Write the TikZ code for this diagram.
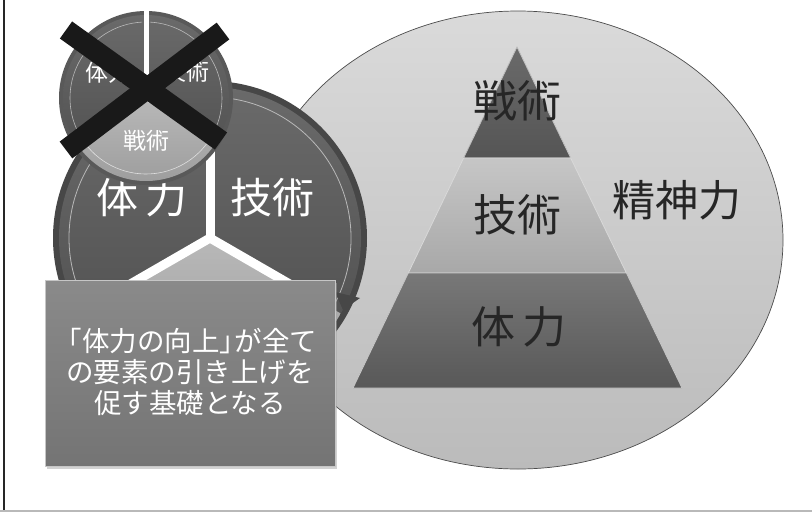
\documentclass[tikz,border=0pt]{standalone}
\usepackage{fontspec}
\newfontfamily\jp{Noto Sans CJK JP}
\usetikzlibrary{shadows}
\definecolor{ellTop}{HTML}{DADADA}
\definecolor{ellBot}{HTML}{BBBBBB}
\definecolor{darkSegA}{HTML}{6A6A6A}
\definecolor{darkSegB}{HTML}{545454}
\definecolor{lightSegA}{HTML}{B8B8B8}
\definecolor{lightSegB}{HTML}{9A9A9A}
\definecolor{boxTop}{HTML}{8A8A8A}
\definecolor{boxBot}{HTML}{747474}
\definecolor{pyrTopA}{HTML}{6A6A6A}
\definecolor{pyrTopB}{HTML}{555555}
\definecolor{pyrMidA}{HTML}{C6C6C6}
\definecolor{pyrMidB}{HTML}{A8A8A8}
\definecolor{pyrBotA}{HTML}{787878}
\definecolor{pyrBotB}{HTML}{585858}
\tikzset{
  darkseg/.style={top color=darkSegA, bottom color=darkSegB},
  lightseg/.style={top color=lightSegA, bottom color=lightSegB},
  rim/.style={draw=gray!55, line width=0.8pt},
  sep/.style={draw=white, line cap=butt},
  whitetxt/.style={text=white, font=\jp},
  blacktxt/.style={text=black!85, font=\jp},
}
\begin{document}
\begin{tikzpicture}[x=1pt,y=1pt]
\useasboundingbox (0,0) rectangle (812,-512);
\fill[white] (0,0) rectangle (812,-512);
% frame
\draw[line width=2.5pt, black!85] (4,0) -- (4,-512);
\draw[line width=2pt, gray!55] (0,-511) -- (812,-511);

% big ellipse (spirit)
\shade[top color=ellTop, bottom color=ellBot] (518,-240) ellipse [x radius=265, y radius=229];
\draw[gray!60!black, line width=0.7pt] (518,-240) ellipse [x radius=265, y radius=229];

% pyramid
\coordinate (apex) at (517,-47);
\coordinate (l1) at (463.6,-158); \coordinate (r1) at (570.7,-158);
\coordinate (l2) at (408.3,-273); \coordinate (r2) at (626.4,-273);
\coordinate (bl) at (353,-388);   \coordinate (br) at (682,-388);
\shade[top color=pyrTopA, bottom color=pyrTopB, draw=gray!50, line width=0.8pt] (apex) -- (r1) -- (l1) -- cycle;
\shade[top color=pyrMidA, bottom color=pyrMidB, draw=gray!30, line width=0.8pt] (l1) -- (r1) -- (r2) -- (l2) -- cycle;
\shade[top color=pyrBotA, bottom color=pyrBotB, draw=gray!45, line width=0.8pt] (l2) -- (r2) -- (br) -- (bl) -- cycle;
\node[blacktxt, font=\jp\fontsize{44}{50}\selectfont] (senjutsuP) at (517,-101) {戦術};
\node[blacktxt, font=\jp\fontsize{44}{50}\selectfont] (gijutsuP) at (517,-215) {技術};
\node[blacktxt, font=\jp\fontsize{44}{50}\selectfont] (tairyokuP) at (519,-327) {体\,力};
\node[blacktxt, font=\jp\fontsize{43}{50}\selectfont] (seishin) at (677,-200) {精神力};

% big wheel
\coordinate (C) at (210,-238);
\fill[black!72] (C) circle (157);
\shade[darkseg] (C) -- ++(90:151) arc[start angle=90, end angle=210, radius=151] -- cycle;
\shade[darkseg] (C) -- ++(-30:151) arc[start angle=-30, end angle=90, radius=151] -- cycle;
\shade[lightseg] (C) -- ++(210:151) arc[start angle=210, end angle=330, radius=151] -- cycle;
\draw[rim] (C) ++(92:141) arc[start angle=92, end angle=208, radius=141];
\draw[rim] (C) ++(-28:141) arc[start angle=-28, end angle=88, radius=141];
\draw[rim, gray!25] (C) ++(212:141) arc[start angle=212, end angle=328, radius=141];
\draw[sep, line width=9pt] (C) -- ++(90:157);
\draw[sep, line width=9pt] (C) -- ++(210:140);
\draw[sep, line width=9pt] (C) -- ++(330:140);
\fill[black!72] (335,-292) -- (360,-298) -- (343,-310) -- cycle;
\node[whitetxt, font=\jp\fontsize{42}{48}\selectfont] (tairyokuW) at (142,-198) {体\,力};
\node[whitetxt, font=\jp\fontsize{42}{48}\selectfont] (gijutsuW) at (272,-198) {技術};

% small (crossed) wheel
\coordinate (S) at (146,-98);
\fill[black!65] (S) circle (87);
\shade[darkseg] (S) -- ++(90:83) arc[start angle=90, end angle=210, radius=83] -- cycle;
\shade[darkseg] (S) -- ++(-30:83) arc[start angle=-30, end angle=90, radius=83] -- cycle;
\shade[lightseg] (S) -- ++(210:83) arc[start angle=210, end angle=330, radius=83] -- cycle;
\draw[rim, line width=0.6pt] (S) ++(93:76) arc[start angle=93, end angle=207, radius=76];
\draw[rim, line width=0.6pt] (S) ++(-27:76) arc[start angle=-27, end angle=87, radius=76];
\draw[rim, line width=0.6pt, gray!25] (S) ++(213:76) arc[start angle=213, end angle=327, radius=76];
\draw[sep, line width=5pt] (S) -- ++(90:88);
\draw[sep, line width=5pt] (S) -- ++(210:84);
\draw[sep, line width=5pt] (S) -- ++(330:84);
\node[whitetxt, font=\jp\fontsize{23}{26}\selectfont] (tairyokuS) at (108,-73) {体力};
\node[whitetxt, font=\jp\fontsize{23}{26}\selectfont] (gijutsuS) at (186,-72) {技術};
\node[whitetxt, font=\jp\fontsize{23}{26}\selectfont] (senjutsuS) at (146,-141) {戦術};

% cross
\coordinate (x1a) at (66,-30);  \coordinate (x1b) at (221,-141);
\coordinate (x2a) at (223,-31); \coordinate (x2b) at (66,-150);
\draw[line width=21pt, black!90] (x1a) -- (x1b);
\draw[line width=21pt, black!90] (x2a) -- (x2b);

% text box
\node[draw=gray!45, line width=0.8pt, top color=boxTop, bottom color=boxBot,
      drop shadow={shadow xshift=1.5pt, shadow yshift=-3pt, fill=black!35},
      minimum width=290pt, minimum height=186pt, anchor=north west, inner sep=0pt]
      (box) at (45,-280) {};
\node[whitetxt, font=\jp\fontsize{27.5}{31}\selectfont, align=center] (boxtxt) at (190,-372)
  {\kern-0.3em「体力の向上」\kern-0.45em が全て\\の要素の引き上げを\\促す基礎となる};
\end{tikzpicture}
\end{document}
